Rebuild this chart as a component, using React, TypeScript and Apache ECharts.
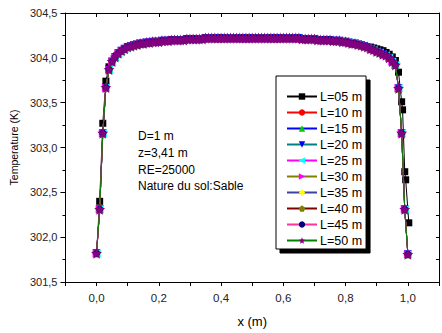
import React, { useEffect, useRef } from "react";
import * as echarts from "echarts";

const xs = [
  0, 0.01, 0.02, 0.03, 0.04, 0.05, 0.06, 0.07, 0.08, 0.09,
  0.1, 0.11, 0.12, 0.13, 0.14, 0.15, 0.16, 0.17, 0.18, 0.19,
  0.2, 0.21, 0.22, 0.23, 0.24, 0.25, 0.26, 0.27, 0.28, 0.29,
  0.3, 0.31, 0.32, 0.33, 0.34, 0.35, 0.36, 0.37, 0.38, 0.39,
  0.4, 0.41, 0.42, 0.43, 0.44, 0.45, 0.46, 0.47, 0.48, 0.49,
  0.5, 0.51, 0.52, 0.53, 0.54, 0.55, 0.56, 0.57, 0.58, 0.59,
  0.6, 0.61, 0.62, 0.63, 0.64, 0.65, 0.66, 0.67, 0.68, 0.69,
  0.7, 0.71, 0.72, 0.73, 0.74, 0.75, 0.76, 0.77, 0.78, 0.79,
  0.8, 0.81, 0.82, 0.83, 0.84, 0.85, 0.86, 0.87, 0.88, 0.89,
  0.9, 0.91, 0.92, 0.93, 0.94, 0.95, 0.96, 0.97, 0.98, 0.99,
  1.0,
];

// Temperatures read for L = 10 ... 50 m (the curves overlap in the picture)
const tempL10to50 = [
  301.82, 302.31, 303.16, 303.67, 303.87, 303.96, 304.01, 304.05, 304.08, 304.1,
  304.12, 304.13, 304.14, 304.15, 304.16, 304.16, 304.17, 304.17, 304.18, 304.18,
  304.18, 304.19, 304.19, 304.19, 304.2, 304.2, 304.2, 304.2, 304.2, 304.21,
  304.21, 304.21, 304.21, 304.21, 304.21, 304.22, 304.22, 304.22, 304.22, 304.22,
  304.22, 304.22, 304.22, 304.22, 304.22, 304.22, 304.22, 304.22, 304.22, 304.22,
  304.22, 304.22, 304.22, 304.22, 304.22, 304.22, 304.22, 304.22, 304.22, 304.22,
  304.22, 304.22, 304.22, 304.22, 304.22, 304.22, 304.21, 304.21, 304.21, 304.21,
  304.21, 304.2, 304.2, 304.2, 304.2, 304.2, 304.19, 304.19, 304.19, 304.18,
  304.18, 304.17, 304.16, 304.16, 304.15, 304.14, 304.13, 304.12, 304.1, 304.09,
  304.07, 304.06, 304.04, 304.03, 304.0, 303.96, 303.92, 303.66, 303.16, 302.31,
  301.81,
];

// L = 05 m differs near the two ends
const tempL05Left = [
  [0, 301.82], [0.01, 302.4], [0.02, 303.27], [0.03, 303.74], [0.04, 303.9],
];
const tempL05Right = [
  [0.88, 304.12], [0.89, 304.11], [0.9, 304.1], [0.91, 304.09], [0.92, 304.08],
  [0.93, 304.06], [0.94, 304.04], [0.95, 304.01], [0.96, 303.97], [0.97, 303.84],
  [0.98, 303.51], [0.983, 303.42], [0.99, 302.73], [0.993, 302.64], [1.003, 302.16],
];

const seriesNames = [
  "L=05 m", "L=10 m", "L=15 m", "L=20 m", "L=25 m",
  "L=30 m", "L=35 m", "L=40 m", "L=45 m", "L=50 m",
];
const lineColors = [
  "#000000", "#ff0000", "#0000ff", "#008080", "#ff00ff",
  "#808000", "#4040a0", "#800000", "#ff3399", "#008000",
];
const markerColors = [
  "#000000", "#ff0000", "#00cc00", "#0000ff", "#00ffff",
  "#ff00ff", "#ffff00", "#808000", "#000080", "#800080",
];
const markers = [
  "rect",
  "circle",
  "triangle",
  "path://M0,0 L10,0 L5,9 Z",
  "path://M0,5 L9,0 L9,10 Z",
  "path://M0,0 L9,5 L0,10 Z",
  "diamond",
  "path://M0,-10 L9.51,-3.09 L5.88,8.09 L-5.88,8.09 L-9.51,-3.09 Z",
  "circle",
  "path://M0,-10 L2.6,-3.5 L9.51,-3.09 L4.2,1.4 L5.88,8.09 L0,4.5 L-5.88,8.09 L-4.2,1.4 L-9.51,-3.09 L-2.6,-3.5 Z",
];
const markerSizes = [7, 7, 8, 8, 8, 8, 8, 8, 7, 11];

const annotation = ["D=1 m", "z=3,41 m", "RE=25000", "Nature du sol:Sable"];

export default function App() {
  const ref = useRef<HTMLDivElement>(null);
  useEffect(() => {
    if (!ref.current) return;
    const chart = echarts.init(ref.current, undefined, { renderer: "svg" });
    const baseData = xs.map((x, i) => [x, tempL10to50[i]]);
    const blackData = [
      ...tempL05Left,
      ...xs.map((x, i) => [x, tempL10to50[i]]).filter((p) => p[0] > 0.045 && p[0] < 0.875),
      ...tempL05Right,
    ];
    const series = seriesNames.map((name, i) => ({
      name,
      type: "line",
      data: i === 0 ? blackData : baseData,
      symbol: markers[i],
      symbolSize: markerSizes[i],
      showSymbol: true,
      showAllSymbol: true,
      lineStyle: { color: lineColors[i], width: 1 },
      itemStyle: { color: markerColors[i], borderWidth: 0 },
      emphasis: { disabled: true },
      z: 2 + i,
    }));
    const axisFont = { fontFamily: "Liberation Sans, Arial, sans-serif" };
    chart.setOption({
      animation: false,
      backgroundColor: "#ffffff",
      grid: { left: 64, right: 2, top: 13, bottom: 46 },
      xAxis: [
        {
          type: "value",
          min: -0.1,
          max: 1.1,
          interval: 0.1,
          position: "bottom",
          name: "x (m)",
          nameLocation: "middle",
          nameGap: 33,
          nameTextStyle: { ...axisFont, fontSize: 13, color: "#000" },
          axisLine: { show: true, onZero: false, lineStyle: { color: "#000", width: 1 } },
          axisTick: { show: true, inside: false, length: 4, lineStyle: { color: "#000" } },
          axisLabel: {
            ...axisFont,
            fontSize: 11.5,
            color: "#222",
            margin: 10,
            formatter: (v: number) => {
              const k = Math.round(v * 10);
              if (k < 0 || k > 10 || k % 2 !== 0) return "";
              return (k / 10).toFixed(1).replace(".", ",");
            },
          },
          splitLine: { show: false },
        },
        {
          type: "value",
          min: -0.1,
          max: 1.1,
          interval: 0.1,
          position: "top",
          axisLine: { show: true, onZero: false, lineStyle: { color: "#000", width: 1 } },
          axisTick: { show: true, inside: true, length: 4, lineStyle: { color: "#000" } },
          axisLabel: { show: false },
          splitLine: { show: false },
        },
      ],
      yAxis: [
        {
          type: "value",
          min: 301.5,
          max: 304.5,
          interval: 0.5,
          position: "left",
          name: "Temperature (K)",
          nameLocation: "middle",
          nameGap: 31,
          nameTextStyle: { ...axisFont, fontSize: 10.5, color: "#000" },
          axisLine: { show: true, onZero: false, lineStyle: { color: "#000", width: 1 } },
          axisTick: { show: true, inside: false, length: 5, lineStyle: { color: "#000" } },
          minorTick: { show: true, splitNumber: 2, length: 3, lineStyle: { color: "#000" } },
          axisLabel: {
            ...axisFont,
            fontSize: 11,
            color: "#222",
            margin: 8,
            formatter: (v: number) => v.toFixed(1).replace(".", ","),
          },
          splitLine: { show: false },
          minorSplitLine: { show: false },
        },
        {
          type: "value",
          min: 301.5,
          max: 304.5,
          interval: 0.25,
          position: "right",
          axisLine: { show: true, onZero: false, lineStyle: { color: "#000", width: 1 } },
          axisTick: { show: true, inside: true, length: 3, lineStyle: { color: "#000" } },
          axisLabel: { show: false },
          splitLine: { show: false },
        },
      ],
      legend: {
        show: true,
        orient: "vertical",
        left: 276,
        top: 76,
        padding: [14, 4, 2, 10],
        itemGap: 3,
        itemWidth: 30,
        itemHeight: 8,
        backgroundColor: "#ffffff",
        borderColor: "#000",
        borderWidth: 1,
        shadowColor: "#000",
        shadowBlur: 0,
        shadowOffsetX: 4,
        shadowOffsetY: 4,
        textStyle: { ...axisFont, fontSize: 12.5, color: "#000", padding: [0, 0, 0, -2] },
        data: seriesNames,
        selectedMode: false,
      },
      graphic: [
        {
          type: "text",
          x: 138,
          y: 128,
          z: 10,
          style: {
            text: annotation.join("\n"),
            fontSize: 12,
            lineHeight: 16.6,
            fontFamily: "Liberation Sans, Arial, sans-serif",
            fill: "#000",
          },
        },
      ],
      series,
    });
    return () => chart.dispose();
  }, []);
  return <div ref={ref} style={{ width: 442, height: 333, position: "absolute", left: 0, top: 0 }} />;
}
